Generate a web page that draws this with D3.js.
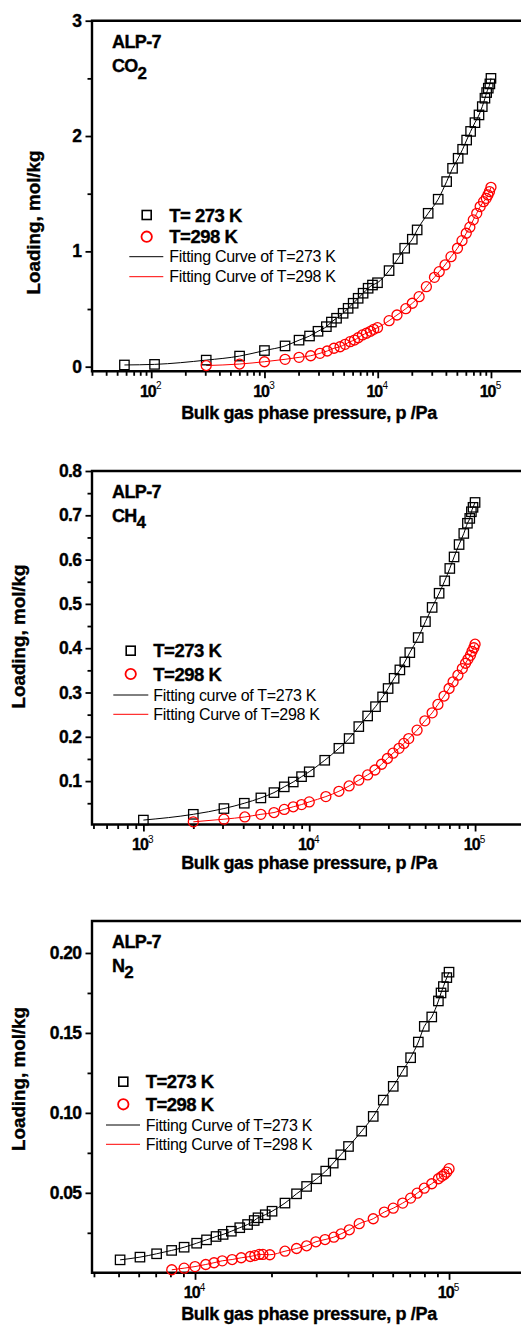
<!DOCTYPE html>
<html><head><meta charset="utf-8">
<script src="https://cdn.jsdelivr.net/npm/d3@7"></script>
<style>html,body{margin:0;padding:0;background:#fff;}svg{display:block;}</style>
</head><body>
<script>
// ---------------- DATA ----------------
const co2_273_p = [58,107,306,603,1000,1520,2020,2500,2970,3520,3900,4330,4950,5480,6070,6720,7430,8230,8990,9960,12600,15100,17300,20200,22300,27900,34200,40600,45800,51300,56200,61000,66100,72200,78400,83800,88500,91600,94700,97800,100000];
const co2_273_q = [0.015,0.02,0.057,0.092,0.14,0.18,0.23,0.266,0.307,0.347,0.387,0.42,0.463,0.506,0.55,0.593,0.637,0.68,0.708,0.728,0.833,0.937,1.027,1.105,1.186,1.33,1.452,1.605,1.72,1.807,1.885,1.965,2.04,2.116,2.183,2.255,2.328,2.377,2.415,2.452,2.5];
const co2_298_p = [306,603,1000,1520,2020,2560,3090,3580,4110,4650,5150,5710,6230,6720,7330,7950,8630,9220,9960,12600,14800,17700,20200,23200,26900,31700,34900,39300,44400,50600,55500,60500,65100,69800,74900,80300,86000,90900,94000,97000,100000];
const co2_298_q = [0.01,0.023,0.043,0.064,0.081,0.095,0.116,0.136,0.16,0.173,0.194,0.217,0.231,0.251,0.275,0.29,0.307,0.324,0.338,0.399,0.448,0.503,0.55,0.607,0.694,0.775,0.824,0.882,0.954,1.027,1.093,1.157,1.21,1.273,1.33,1.388,1.431,1.46,1.489,1.518,1.555];

const ch4_273_p = [1000,2000,3060,4060,5110,6130,7070,8010,8990,10000,12400,15100,17400,19900,22500,25100,27700,29900,32500,35200,37700,40400,45400,50200,55100,60700,65600,70400,74700,80100,85500,89900,92900,95000,97200,100000];
const ch4_273_q = [0.012,0.025,0.038,0.05,0.062,0.074,0.087,0.098,0.11,0.121,0.147,0.174,0.196,0.223,0.247,0.268,0.29,0.309,0.332,0.351,0.369,0.39,0.424,0.46,0.492,0.524,0.552,0.58,0.606,0.634,0.659,0.682,0.693,0.708,0.718,0.729];
const ch4_298_p = [2000,3060,4090,5110,6130,7070,8010,8990,10000,12600,15100,17400,19900,22500,24900,27300,29600,32000,34800,37200,39800,44700,49800,55100,59700,65000,69700,73700,78800,83800,87600,90600,93800,95900,98300,100000];
const ch4_298_q = [0.008,0.014,0.019,0.025,0.029,0.036,0.042,0.047,0.053,0.065,0.077,0.089,0.102,0.114,0.125,0.138,0.151,0.163,0.174,0.185,0.196,0.215,0.236,0.254,0.273,0.292,0.309,0.324,0.339,0.354,0.366,0.375,0.384,0.393,0.401,0.409];

const n2_273_p = [5070,6070,7060,8090,9060,10150,11100,12100,12900,13900,15000,16100,17100,17700,18900,20100,22600,25100,27500,30100,32700,35000,37500,40200,45300,50300,55100,60300,65500,70600,75700,79900,85500,90800,93000,95000,98000,100000];
const n2_273_q = [0.0081,0.0098,0.0119,0.014,0.016,0.0185,0.0206,0.0227,0.024,0.026,0.0282,0.0302,0.0327,0.0344,0.0363,0.0385,0.0436,0.0494,0.054,0.0588,0.0636,0.0686,0.0738,0.079,0.0886,0.0978,0.108,0.1166,0.126,0.1345,0.1443,0.1541,0.16,0.17,0.175,0.179,0.1846,0.188];
const n2_298_p = [8100,9060,10000,11020,11880,12800,14000,15200,16500,17200,17900,18500,19700,22600,25100,27500,29900,32500,35200,37600,40500,44300,50300,55600,60300,65700,70600,74900,79900,85500,90800,93500,95800,98000,100000];
const n2_298_q = [0.0019,0.0029,0.0039,0.0052,0.0063,0.0075,0.0083,0.0094,0.0102,0.0108,0.0115,0.0115,0.0113,0.0135,0.0152,0.0169,0.0194,0.0208,0.0223,0.0244,0.0269,0.0307,0.0338,0.038,0.0404,0.0436,0.0467,0.0498,0.0529,0.0557,0.0588,0.0603,0.0615,0.063,0.0651];

const co2_yMajor = [0,1,2,3];
const co2_yMinor = [0.5,1.5,2.5];
const ch4_yMajor = [0.1,0.2,0.3,0.4,0.5,0.6,0.7,0.8];
const ch4_yMinor = [0.05,0.15,0.25,0.35,0.45,0.55,0.65,0.75];
const n2_yMajor = [0.05,0.10,0.15,0.20];
const n2_yMinor = [0.025,0.075,0.125,0.175];

const co2_legend = ["T= 273 K","T=298 K","Fitting Curve of T=273 K","Fitting Curve of T=298 K"];
const ch4_legend = ["T=273 K","T=298 K","Fitting curve of T=273 K","Fitting Curve of T=298 K"];
const n2_legend  = ["T=273 K","T=298 K","Fitting Curve of T=273 K","Fitting Curve of T=298 K"];

const xTitle = "Bulk gas phase pressure, p /Pa";
const yTitle = "Loading, mol/kg";

// ---------------- LAYOUT ----------------
const W = 521, H = 1325;
const FONT = "'Liberation Sans', Arial, Helvetica, sans-serif";
const RED = "#ff0000";

const svg = d3.select("body").append("svg").attr("width", W).attr("height", H)
  .style("font-family", FONT);

const panels = [
  { name:"CO", sub:"2", top:20.7, bottom:371.3, yDomain:[-0.04,3], xDomain:[30,3e5], xRange:[92,545],
    yMajor:co2_yMajor, yMinor:co2_yMinor, yFmt:d3.format("d"), decades:[2,3,4,5],
    s1:{p:co2_273_p,q:co2_273_q}, s2:{p:co2_298_p,q:co2_298_q}, legend:co2_legend,
    leg:{mx:146.7, sy:215, cy:236.7, lx:[129.3,163.3], ly:[256.7,276.7], tx:169.3},
    lab:{alpY:48, gasY:72}, yTitleX:40, yTitleY:222.5, xTitleY:419 },
  { name:"CH", sub:"4", top:471, bottom:824.5, yDomain:[0.002,0.8], xDomain:[490,2e5], xRange:[92,525],
    yMajor:ch4_yMajor, yMinor:ch4_yMinor, yFmt:d3.format(".1f"), decades:[3,4,5],
    s1:{p:ch4_273_p,q:ch4_273_q}, s2:{p:ch4_298_p,q:ch4_298_q}, legend:ch4_legend,
    leg:{mx:130.7, sy:650.7, cy:674, lx:[113.3,148.3], ly:[695,714.3], tx:153.3},
    lab:{alpY:498, gasY:521.7}, yTitleX:25, yTitleY:636.5, xTitleY:869 },
  { name:"N", sub:"2", top:921, bottom:1272.8, yDomain:[0,0.22], xDomain:[3930,2e5], xRange:[92,525.5],
    yMajor:n2_yMajor, yMinor:n2_yMinor, yFmt:d3.format(".2f"), decades:[4,5],
    s1:{p:n2_273_p,q:n2_273_q}, s2:{p:n2_298_p,q:n2_298_q}, legend:n2_legend,
    leg:{mx:123.3, sy:1081.7, cy:1104.3, lx:[106,140], ly:[1125,1144.3], tx:145.7},
    lab:{alpY:948, gasY:971.7}, yTitleX:25, yTitleY:1079, xTitleY:1320 }
];

function minorVals(domain) {
  const out = [];
  const lo = Math.floor(Math.log10(domain[0])), hi = Math.ceil(Math.log10(domain[1]));
  for (let e = lo; e <= hi; e++) for (let k = 2; k <= 9; k++) {
    const v = k * Math.pow(10, e);
    if (v >= domain[0] && v <= domain[1]) out.push(v);
  }
  return out;
}

function heavy(sel) { return sel.attr("stroke","#000").attr("stroke-width",0.35); }

panels.forEach(cfg => {
  const g = svg.append("g");
  const x = d3.scaleLog().domain(cfg.xDomain).range(cfg.xRange);
  const y = d3.scaleLinear().domain(cfg.yDomain).range([cfg.bottom, cfg.top]);
  const x0 = cfg.xRange[0];

  // frame
  g.append("path")
    .attr("d", `M${cfg.xRange[1]+10},${cfg.top} L${x0},${cfg.top} L${x0},${cfg.bottom} L${cfg.xRange[1]+10},${cfg.bottom}`)
    .attr("fill","none").attr("stroke","#000").attr("stroke-width",2.4);

  // x axis ticks
  const xMaj = cfg.decades.map(d => Math.pow(10,d));
  const xAxMaj = g.append("g").attr("transform",`translate(0,${cfg.bottom})`)
    .call(d3.axisBottom(x).tickValues(xMaj).tickSize(7).tickSizeOuter(0).tickFormat(""));
  const xAxMin = g.append("g").attr("transform",`translate(0,${cfg.bottom})`)
    .call(d3.axisBottom(x).tickValues(minorVals(cfg.xDomain)).tickSize(4.5).tickSizeOuter(0).tickFormat(""));
  [xAxMaj,xAxMin].forEach(a => { a.select(".domain").remove(); a.selectAll("line").attr("stroke-width",1.8); });

  // x tick labels 10^n
  xMaj.forEach((v,i) => {
    const t = g.append("text").attr("x", x(v)-1).attr("y", cfg.bottom+25.5)
      .attr("text-anchor","middle").attr("font-weight","bold").attr("font-size",16).attr("letter-spacing",-0.9);
    heavy(t);
    t.append("tspan").text("10");
    t.append("tspan").attr("dy",-7.5).attr("font-size",10).attr("font-weight","normal")
      .attr("stroke-width",0).text(cfg.decades[i]);
  });

  // y axis
  const yAxMaj = g.append("g").attr("transform",`translate(${x0},0)`)
    .call(d3.axisLeft(y).tickValues(cfg.yMajor).tickSize(6.5).tickSizeOuter(0).tickPadding(4).tickFormat(cfg.yFmt));
  const yAxMin = g.append("g").attr("transform",`translate(${x0},0)`)
    .call(d3.axisLeft(y).tickValues(cfg.yMinor).tickSize(4.5).tickSizeOuter(0).tickFormat(""));
  [yAxMaj,yAxMin].forEach(a => { a.select(".domain").remove(); a.selectAll("line").attr("stroke-width",1.8); });
  heavy(yAxMaj.selectAll("text").attr("font-family",FONT).attr("font-size",17.5).attr("font-weight","bold")
    .attr("fill","#000").attr("letter-spacing",-0.6));

  // titles
  heavy(g.append("text").attr("x",309).attr("y",cfg.xTitleY).attr("text-anchor","middle")
    .attr("font-weight","bold").attr("font-size",18).attr("letter-spacing",-0.35).text(xTitle));
  heavy(g.append("text").attr("transform",`translate(${cfg.yTitleX},${cfg.yTitleY}) rotate(-90)`)
    .attr("text-anchor","middle").attr("font-weight","bold").attr("font-size",18.8).text(yTitle));

  // sample label
  heavy(g.append("text").attr("x",112).attr("y",cfg.lab.alpY).attr("font-weight","bold")
    .attr("font-size",18).attr("letter-spacing",-0.6).text("ALP-7"));
  const gas = g.append("text").attr("x",112).attr("y",cfg.lab.gasY).attr("font-weight","bold")
    .attr("font-size",18).attr("letter-spacing",-0.8);
  heavy(gas);
  gas.append("tspan").text(cfg.name);
  gas.append("tspan").attr("dy",6.5).attr("font-size",17).text(cfg.sub);

  // fitting curves
  const line = d3.line().x(d => x(d[0])).y(d => y(d[1])).curve(d3.curveMonotoneX);
  const pts1 = cfg.s1.p.map((p,i) => [p, cfg.s1.q[i]]);
  const pts2 = cfg.s2.p.map((p,i) => [p, cfg.s2.q[i]]);
  g.append("path").datum(pts1).attr("d",line).attr("fill","none").attr("stroke","#000").attr("stroke-width",1);
  g.append("path").datum(pts2).attr("d",line).attr("fill","none").attr("stroke",RED).attr("stroke-width",1);

  // markers
  const S = 9.4;
  g.append("g").selectAll("rect").data(pts1).join("rect")
    .attr("x", d => x(d[0]) - S/2).attr("y", d => y(d[1]) - S/2)
    .attr("width",S).attr("height",S).attr("fill","none").attr("stroke","#000").attr("stroke-width",1.3);
  g.append("g").selectAll("circle").data(pts2).join("circle")
    .attr("cx", d => x(d[0])).attr("cy", d => y(d[1])).attr("r",5)
    .attr("fill","none").attr("stroke",RED).attr("stroke-width",1.3);

  // legend
  const L = cfg.leg;
  g.append("rect").attr("x",L.mx-4.5).attr("y",L.sy-4.5).attr("width",9).attr("height",9)
    .attr("fill","none").attr("stroke","#000").attr("stroke-width",1.6);
  g.append("circle").attr("cx",L.mx).attr("cy",L.cy).attr("r",5.2)
    .attr("fill","none").attr("stroke",RED).attr("stroke-width",1.8);
  g.append("line").attr("x1",L.lx[0]).attr("x2",L.lx[1]).attr("y1",L.ly[0]).attr("y2",L.ly[0])
    .attr("stroke","#000").attr("stroke-width",1);
  g.append("line").attr("x1",L.lx[0]).attr("x2",L.lx[1]).attr("y1",L.ly[1]).attr("y2",L.ly[1])
    .attr("stroke",RED).attr("stroke-width",1);
  const ys = [L.sy, L.cy, L.ly[0], L.ly[1]];
  cfg.legend.forEach((txt,i) => {
    const bold = i < 2;
    const t = g.append("text").attr("x",L.tx).attr("y",ys[i] + (bold ? 6.5 : 5.7))
      .attr("font-weight", bold ? "bold" : "normal")
      .attr("font-size", bold ? 18.5 : 16)
      .attr("letter-spacing", bold ? -0.5 : -0.3)
      .text(txt);
    if (bold) heavy(t);
  });
});
</script>
</body></html>
